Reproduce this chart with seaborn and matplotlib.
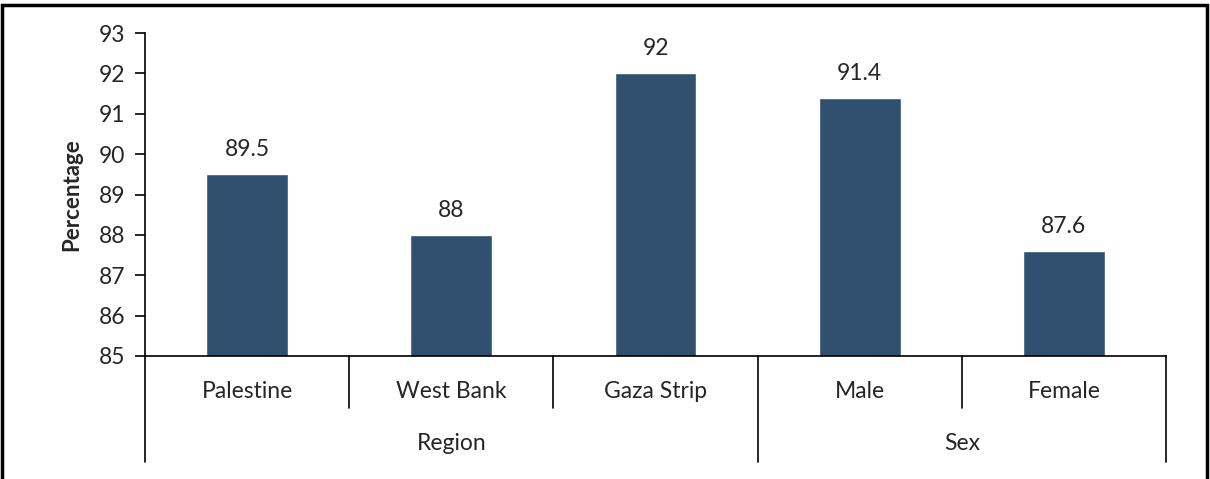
import matplotlib
matplotlib.use("Agg")
import matplotlib.pyplot as plt
import matplotlib.patches as mpatches
import seaborn as sns
import pandas as pd

# data
categories = ["Palestine", "West Bank", "Gaza Strip", "Male", "Female"]
groups = ["Region", "Region", "Region", "Sex", "Sex"]
values = [89.5, 88.0, 92.0, 91.4, 87.6]
value_labels = ["89.5", "88", "92", "91.4", "87.6"]

sns.set_style("white")
plt.rcParams['font.family'] = ['Lato', 'DejaVu Sans']
FS = 16.5

W, H = 1210, 479
fig = plt.figure(figsize=(W / 100, H / 100), dpi=100)
ax = fig.add_axes([145 / W, 1 - 356 / H, (1166 - 145) / W, (356 - 33) / H])

df = pd.DataFrame({"cat": categories, "val": values})
sns.barplot(data=df, x="cat", y="val", color="#31506F", saturation=1, width=0.4, ax=ax)

ax.set_ylim(85, 93)
ax.set_xlim(-0.5, len(categories) - 0.5)
ax.set_yticks(range(85, 94))
ax.tick_params(axis="y", direction="out", length=7, width=1.2, color="black",
               labelsize=FS, pad=7, left=True)
ax.set_xticks([])
ax.set_xlabel("")
ax.set_ylabel("Percentage", fontsize=FS - 0.5, fontweight="bold", labelpad=12)
for s in ["top", "right"]:
    ax.spines[s].set_visible(False)
for s in ["left", "bottom"]:
    ax.spines[s].set_color("black")
    ax.spines[s].set_linewidth(1.2)

# value labels
for i, (v, t) in enumerate(zip(values, value_labels)):
    ax.annotate(t, (i, v), xytext=(0, 10), textcoords="offset points",
                ha="center", va="bottom", fontsize=FS)

# hierarchical category axis
tr = ax.get_xaxis_transform()
inner_y = -(408 - 356) / 323
outer_y = -(462 - 356) / 323
for i, c in enumerate(categories):
    ax.text(i, -(392 - 356) / 323, c, transform=tr, ha="center", va="center", fontsize=FS)
starts = [0] + [i for i in range(1, len(groups)) if groups[i] != groups[i - 1]]
ends = starts[1:] + [len(groups)]
for i in range(len(categories) + 1):
    x = i - 0.5
    y0 = outer_y if i in starts or i == len(groups) else inner_y
    ax.plot([x, x], [0, y0], transform=tr, color="black", lw=1.2, clip_on=False)
for s, e in zip(starts, ends):
    ax.text((s + e - 1) / 2, -(444 - 356) / 323, groups[s], transform=tr,
            ha="center", va="center", fontsize=FS)

# chart frame
fig.patches.append(mpatches.Rectangle((2 / W, -0.05), (1207 - 2) / W, 1 - 5 / H + 0.05,
                                      transform=fig.transFigure, fill=False,
                                      edgecolor="black", lw=2.5))

fig.savefig("out.png", dpi=100)
